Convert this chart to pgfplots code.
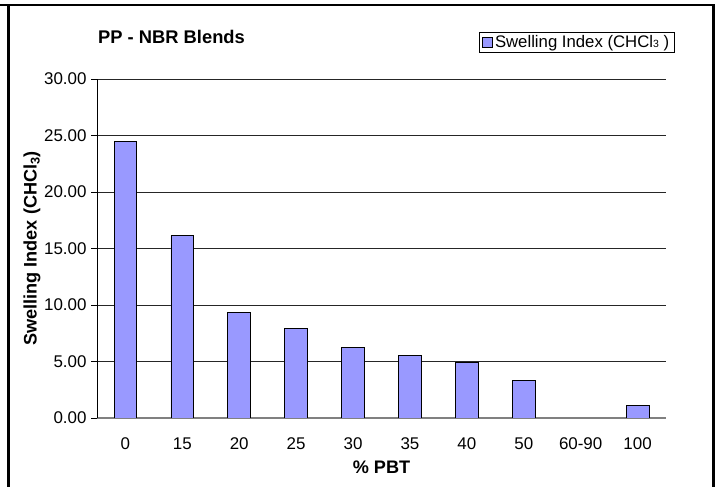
\documentclass[border=0pt]{standalone}
\usepackage{fontspec}
\setmainfont{Liberation Sans}
\usepackage{pgfplots}
\pgfplotsset{compat=1.18}
\definecolor{barblue}{HTML}{9999FF}
\begin{document}
\begin{tikzpicture}
\path[use as bounding box] (0bp,0bp) rectangle (719bp,487bp);
\draw[line width=2.5bp] (0bp,482bp) -- (714.75bp,482bp);
\draw[line width=2.5bp] (8.5bp,-2bp) -- (8.5bp,483.25bp);
\draw[line width=2.5bp] (713.5bp,-2bp) -- (713.5bp,483.25bp);
\node[anchor=west, font=\fontsize{18.4}{20}\selectfont\bfseries, inner sep=0] at (98bp,450.5bp) {PP - NBR Blends};
\begin{axis}[
  at={(125.45bp,69bp)}, anchor=origin, scale only axis,
  width=569bp, height=339bp,
  xmin=-0.5, xmax=9.5, ymin=0, ymax=30,
  axis x line*=bottom, axis y line*=left,
  x axis line style={draw=gray, line width=1.7bp, -},
  y axis line style={draw=black, line width=0.8bp, -},
  ytick={0,5,...,30},
  yticklabel={\pgfmathprintnumber[fixed,fixed zerofill,precision=2]{\tick}},
  ymajorgrids, major grid style={black!85, line width=0.8bp},
  ytick style={draw=black, line width=0.8bp},
  tick align=outside, major tick length=5.5bp,
  xtick={0,...,9},
  xticklabels={0,15,20,25,30,35,40,50,60-90,100},
  xtick style={draw=none},
  extra x ticks={-0.5,0.5,...,9.5},
  extra x tick labels={},
  extra x tick style={tick style={draw=black, line width=0.8bp}, major tick length=6bp, grid=none},
  ticklabel style={font=\fontsize{17}{19}\selectfont},
  xticklabel style={yshift=-11bp},
  yticklabel style={xshift=-1.5bp},
  /pgf/number format/assume math mode=true,
  every axis y label/.style={at={(axis description cs:0,0.5)}, xshift=-65bp, rotate=90, anchor=center, font=\fontsize{18.2}{20}\selectfont\bfseries},
  every axis x label/.style={at={(axis description cs:0.5,0)}, yshift=-49bp, anchor=center, font=\fontsize{18.2}{20}\selectfont\bfseries},
  ylabel={Swelling Index (CHCl\textsubscript{3})},
  xlabel={\% PBT},
  legend style={at={(axis description cs:0.671,1.139)}, anchor=north west, draw=black, line width=0.8bp, font=\fontsize{16.8}{18}\selectfont, inner xsep=3bp, inner ysep=1.5bp, cells={anchor=west}},
  legend image code/.code={\draw[#1, line width=0.8bp] (0bp,-5bp) rectangle (10bp,5bp);},
]
\addplot[ybar, bar width=0.4, fill=barblue, draw=black, line width=0.8bp] coordinates {
  (0,24.45) (1,16.13) (2,9.35) (3,7.94) (4,6.26) (5,5.52) (6,4.90) (7,3.36) (9,1.12)
};
\addlegendentry{Swelling Index (CHCl{\fontsize{10.5}{10}\selectfont 3} )}
\end{axis}
\end{tikzpicture}
\end{document}
